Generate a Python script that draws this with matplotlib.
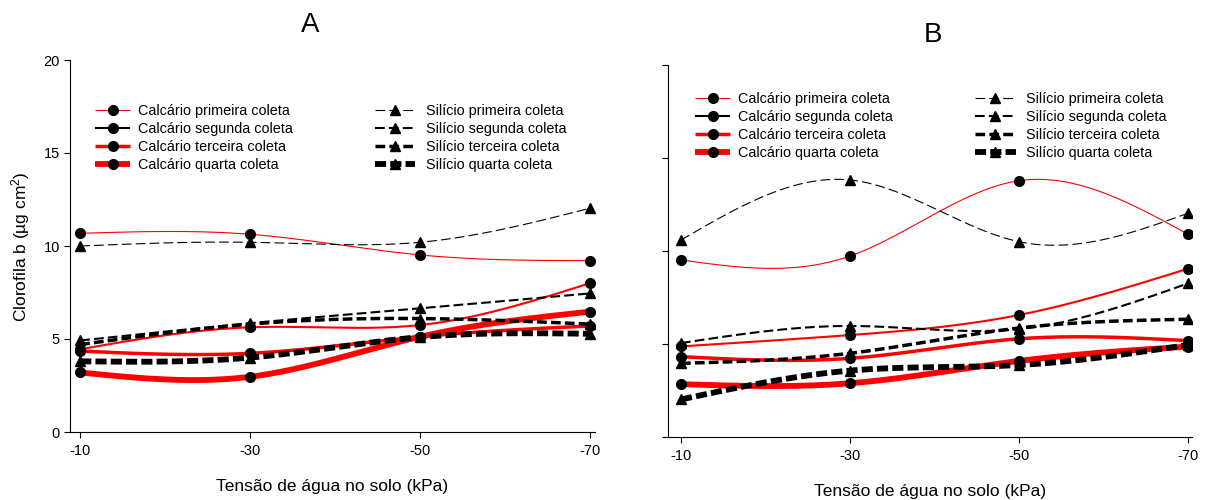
import matplotlib
matplotlib.use('Agg')
import matplotlib.pyplot as plt
import numpy as np
from matplotlib.lines import Line2D

plt.rcParams['font.family'] = ['Liberation Sans', 'DejaVu Sans']
plt.rcParams['mathtext.fontset'] = 'custom'
plt.rcParams['mathtext.rm'] = 'Liberation Sans'
plt.rcParams['mathtext.it'] = 'Liberation Sans:italic'
plt.rcParams['lines.scale_dashes'] = False
plt.rcParams['axes.unicode_minus'] = False

# tensão de água no solo (kPa)
tensao = [-10, -30, -50, -70]
tick_y = [0, 5, 10, 15, 20]

# painel A
a_calc1 = [10.68, 10.63, 9.52, 9.21]
a_calc2 = [4.45, 5.63, 5.75, 8.00]
a_calc3 = [4.35, 4.23, 5.12, 5.70]
a_calc4 = [3.20, 2.97, 5.12, 6.47]
a_sil1 = [10.00, 10.20, 10.20, 12.03]
a_sil2 = [4.92, 5.85, 6.65, 7.45]
a_sil3 = [4.70, 5.80, 6.10, 5.80]
a_sil4 = [3.80, 4.00, 5.10, 5.28]

# painel B
b_calc1 = [9.52, 9.73, 13.78, 10.90]
b_calc2 = [4.87, 5.48, 6.56, 9.05]
b_calc3 = [4.32, 4.23, 5.28, 5.18]
b_calc4 = [2.84, 2.89, 4.09, 4.86]
b_sil1 = [10.59, 13.82, 10.50, 12.03]
b_sil2 = [5.05, 5.97, 5.80, 8.26]
b_sil3 = [3.96, 4.50, 5.86, 6.33]
b_sil4 = [2.02, 3.57, 3.87, 4.95]

nomes_calc = ['Calcário primeira coleta', 'Calcário segunda coleta',
              'Calcário terceira coleta', 'Calcário quarta coleta']
nomes_sil = ['Silício primeira coleta', 'Silício segunda coleta',
             'Silício terceira coleta', 'Silício quarta coleta']

larg = [0.8, 1.5, 2.5, 4.2]
tracos = [(7, 3), (7, 3), (7, 3), (8, 3)]


def spline(x, y, n=150):
    # spline cúbica natural (parâmetro uniforme 0..n-1)
    y = np.asarray(y, float)
    m = len(y)
    A = np.zeros((m, m))
    b = np.zeros(m)
    A[0, 0] = A[-1, -1] = 1
    for i in range(1, m - 1):
        A[i, i - 1] = 1
        A[i, i] = 4
        A[i, i + 1] = 1
        b[i] = 6 * (y[i + 1] - 2 * y[i] + y[i - 1])
    M = np.linalg.solve(A, b)
    t = np.linspace(0, m - 1, n)
    k = np.clip(np.floor(t).astype(int), 0, m - 2)
    u = t - k
    ys = ((1 - u) * y[k] + u * y[k + 1]
          + ((1 - u) ** 3 - (1 - u)) * M[k] / 6 + (u ** 3 - u) * M[k + 1] / 6)
    xs = np.interp(t, np.arange(m), np.asarray(x, float))
    return xs, ys


def painel(ax, calc, sil, xlim, leg_l, leg_r):
    for i in range(4):
        xs, ys = spline(tensao, calc[i])
        ax.plot(xs, ys, color='red', lw=larg[i], solid_capstyle='butt', zorder=2)
        ax.plot(tensao, calc[i], 'o', color='black', ms=7, zorder=4)
    for i in range(4):
        xs, ys = spline(tensao, sil[i])
        ax.plot(xs, ys, color='black', lw=larg[i], ls=(0, tracos[i]),
                dash_capstyle='butt', zorder=3)
        ax.plot(tensao, sil[i], '^', color='black', ms=7, zorder=4)

    ax.set_xlim(*xlim)
    ax.set_ylim(0, 20)
    ax.set_xticks(tensao)
    ax.set_yticks(tick_y)
    for s in ['top', 'right']:
        ax.spines[s].set_visible(False)
    for s in ['left', 'bottom']:
        ax.spines[s].set_linewidth(0.8)
    ax.tick_params(direction='out', length=4.3, width=0.8, labelsize=10.5)
    ax.tick_params(axis='y', pad=3)
    ax.tick_params(axis='x', pad=4)

    cores_leg = ['red', 'black', 'red', 'red']
    h_calc = [Line2D([], [], color=cores_leg[i], lw=larg[i], marker='o',
                     ms=7, mfc='black', mec='black', solid_capstyle='butt')
              for i in range(4)]
    h_sil = [Line2D([], [], color='black', lw=larg[i], ls=(0, tracos[i]),
                    marker='^', ms=7, dash_capstyle='butt')
             for i in range(4)]
    lg1 = ax.legend(h_calc, nomes_calc, loc='upper left', bbox_to_anchor=leg_l,
                    frameon=False, fontsize=10.4, handlelength=2.4,
                    handletextpad=0.55, labelspacing=0.27, borderpad=0,
                    borderaxespad=0)
    ax.add_artist(lg1)
    ax.legend(h_sil, nomes_sil, loc='upper left', bbox_to_anchor=leg_r,
              frameon=False, fontsize=10.4, handlelength=2.8,
              handletextpad=0.75, labelspacing=0.27, borderpad=0,
              borderaxespad=0)
    ax.set_xlabel('Tensão de água no solo (kPa)', fontsize=12.5)
    ax.xaxis.set_label_coords(0.5, -0.126)


fig = plt.figure(figsize=(12.06, 5.0), dpi=100)
axA = fig.add_axes([70 / 1206, 68 / 500, 525 / 1206, 372 / 500])
axB = fig.add_axes([668 / 1206, 63 / 500, 524 / 1206, 372 / 500])

painel(axA, [a_calc1, a_calc2, a_calc3, a_calc4],
       [a_sil1, a_sil2, a_sil3, a_sil4], (-8.8, -70.6),
       (0.048, 0.882), (0.581, 0.882))
painel(axB, [b_calc1, b_calc2, b_calc3, b_calc4],
       [b_sil1, b_sil2, b_sil3, b_sil4], (-8.46, -70.47),
       (0.052, 0.927), (0.586, 0.927))

axA.set_ylabel('Clorofila b (µg cm$^{2}$)', fontsize=12.5)
axA.yaxis.set_label_coords(-0.072, 0.497)
axB.set_yticklabels([])

axA.text(0.457, 1.094, 'A', transform=axA.transAxes, fontsize=20,
         ha='center', va='center')
axB.text(0.506, 1.081, 'B', transform=axB.transAxes, fontsize=20,
         ha='center', va='center')

plt.savefig('out.png', dpi=100)
